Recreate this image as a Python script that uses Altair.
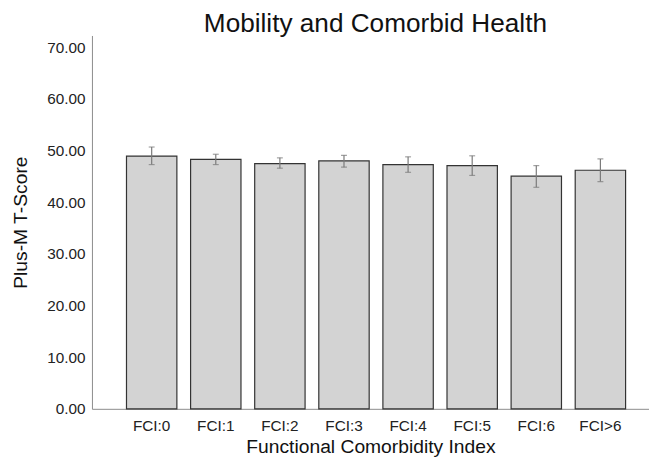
import altair as alt
import pandas as pd

categories = ["FCI:0", "FCI:1", "FCI:2", "FCI:3", "FCI:4", "FCI:5", "FCI:6", "FCI>6"]
means = [48.95, 48.3, 47.5, 48.0, 47.3, 47.1, 45.05, 46.2]
lower = [47.3, 47.3, 46.6, 46.8, 45.8, 45.2, 42.9, 44.0]
upper = [50.7, 49.3, 48.6, 49.1, 48.8, 49.0, 47.1, 48.4]
y_ticks = [0, 10, 20, 30, 40, 50, 60, 70]

df = pd.DataFrame({"cat": categories, "mean": means, "lo": lower, "hi": upper})

FONT = "Liberation Sans"

x_enc = alt.X(
    "cat:N",
    sort=categories,
    title="Functional Comorbidity Index",
    scale=alt.Scale(paddingInner=0.214, paddingOuter=0.452, align=0.596),
    axis=alt.Axis(
        labelAngle=0, ticks=False, domainColor="#8a8a8a", labelFontSize=15.5,
        labelColor="#222222", labelPadding=10, titleFontSize=19.5, titleFontWeight="normal",
        titleColor="#111111", titlePadding=4, labelFont=FONT, titleFont=FONT,
    ),
)

y_scale = alt.Scale(domain=[0, 72.3], nice=False, zero=True)

bars = alt.Chart(df).mark_bar(
    fill="#d3d3d3", stroke="#333333", strokeWidth=1.2
).encode(
    x=x_enc,
    y=alt.Y(
        "mean:Q",
        scale=y_scale,
        title="Plus-M T-Score",
        axis=alt.Axis(
            values=y_ticks, format=".2f", ticks=False, grid=False, domainColor="#8a8a8a",
            labelFontSize=15.5, labelColor="#222222", labelPadding=7, titleFontSize=19.5,
            titleFontWeight="normal", titleColor="#111111", titlePadding=16,
            labelFont=FONT, titleFont=FONT,
        ),
    ),
)

rules = alt.Chart(df).mark_rule(color="#7a7a7a", strokeWidth=1.2).encode(
    x=alt.X("cat:N", sort=categories),
    y=alt.Y("lo:Q", scale=y_scale),
    y2="hi:Q",
)

caps_lo = alt.Chart(df).mark_tick(color="#7a7a7a", size=6, thickness=1.2, orient="horizontal").encode(
    x=alt.X("cat:N", sort=categories),
    y=alt.Y("lo:Q", scale=y_scale),
)
caps_hi = alt.Chart(df).mark_tick(color="#7a7a7a", size=6, thickness=1.2, orient="horizontal").encode(
    x=alt.X("cat:N", sort=categories),
    y=alt.Y("hi:Q", scale=y_scale),
)

chart = alt.layer(bars, rules, caps_lo, caps_hi).properties(
    width=564,
    height=378,
    title=alt.TitleParams(
        "Mobility and Comorbid Health", fontSize=26.5, fontWeight="normal",
        font=FONT, color="#111111", anchor="middle", dx=5, offset=-2,
    ),
    autosize=alt.AutoSizeParams(type="none"),
    padding={"left": 85, "top": 25, "right": 0, "bottom": 50},
).configure_view(stroke=None).configure_axis(grid=False)

chart.save("out.html", embed_options={"renderer": "svg", "actions": False})
